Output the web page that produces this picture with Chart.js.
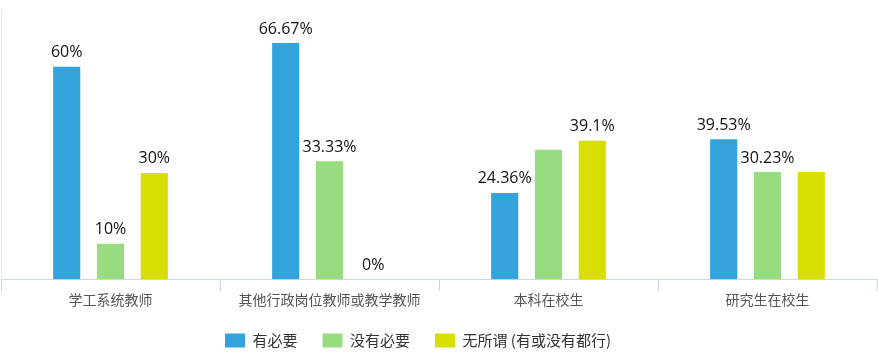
<!DOCTYPE html>
<html>
<head>
  <title>Bar Chart</title>
  <script src="https://cdn.jsdelivr.net/npm/chart.js"></script>
  <style>
    html, body { margin: 0; padding: 0; background: #fff; }
    #wrap { width: 878px; height: 364px; }
  </style>
</head>
<body>
  <div id="wrap"><canvas id="barChart"></canvas></div>

  <script>
    const categories = ['学工系统教师', '其他行政岗位教师或教学教师', '本科在校生', '研究生在校生'];
    const seriesNames = ['有必要', '没有必要', '无所谓 (有或没有都行)'];
    const needed = [60, 66.67, 24.36, 39.53];
    const notNeeded = [10, 33.33, 36.54, 30.23];
    const indifferent = [30, 0, 39.1, 30.24];
    // [category, series] labels the reference leaves out
    const hiddenLabels = [[2, 1], [3, 2]];
    const colors = ['#33a3dc', '#97dc7e', '#d8df00'];

    const font = '"Noto Sans CJK SC", "Noto Sans", sans-serif';

    const valueLabels = {
      id: 'valueLabels',
      afterLayout(chart) {
        // legend sits a bit left of centre in the reference
        chart.legend.left -= 21;
        chart.legend.right -= 21;
      },
      afterDatasetsDraw(chart) {
        const ctx = chart.ctx;
        ctx.save();
        ctx.font = '16px "Open Sans", sans-serif';
        ctx.fillStyle = '#111';
        ctx.textAlign = 'center';
        ctx.textBaseline = 'bottom';
        chart.data.datasets.forEach((ds, di) => {
          chart.getDatasetMeta(di).data.forEach((bar, i) => {
            if (hiddenLabels.some(h => h[0] === i && h[1] === di)) return;
            ctx.fillText(ds.data[i] + '%', bar.x, bar.y - 6);
          });
        });
        ctx.restore();
      }
    };

    new Chart(document.getElementById('barChart'), {
      type: 'bar',
      data: {
        labels: categories,
        datasets: [needed, notNeeded, indifferent].map((d, i) => ({
          label: seriesNames[i],
          data: d,
          backgroundColor: colors[i],
          categoryPercentage: 0.6,
          barPercentage: 0.62
        }))
      },
      options: {
        responsive: true,
        maintainAspectRatio: false,
        animation: false,
        layout: { padding: { top: 10, left: 1, right: 1, bottom: 6 } },
        plugins: {
          tooltip: { enabled: false },
          legend: {
            position: 'bottom',
            labels: {
              boxWidth: 20,
              boxHeight: 14,
              padding: 25,
              color: '#333',
              font: { family: font, size: 15 }
            }
          }
        },
        scales: {
          x: {
            grid: {
              offset: true,
              drawOnChartArea: false,
              tickLength: 12,
              color: '#ccd6eb'
            },
            border: { color: '#ccd6eb' },
            ticks: {
              color: '#555',
              padding: 0,
              font: { family: font, size: 14 }
            }
          },
          y: {
            min: 0,
            max: 76,
            afterFit(scale) { scale.width = 0; },
            grid: { display: false },
            border: { color: '#dfe6f0' },
            ticks: { display: false }
          }
        }
      },
      plugins: [valueLabels]
    });
  </script>
</body>
</html>
